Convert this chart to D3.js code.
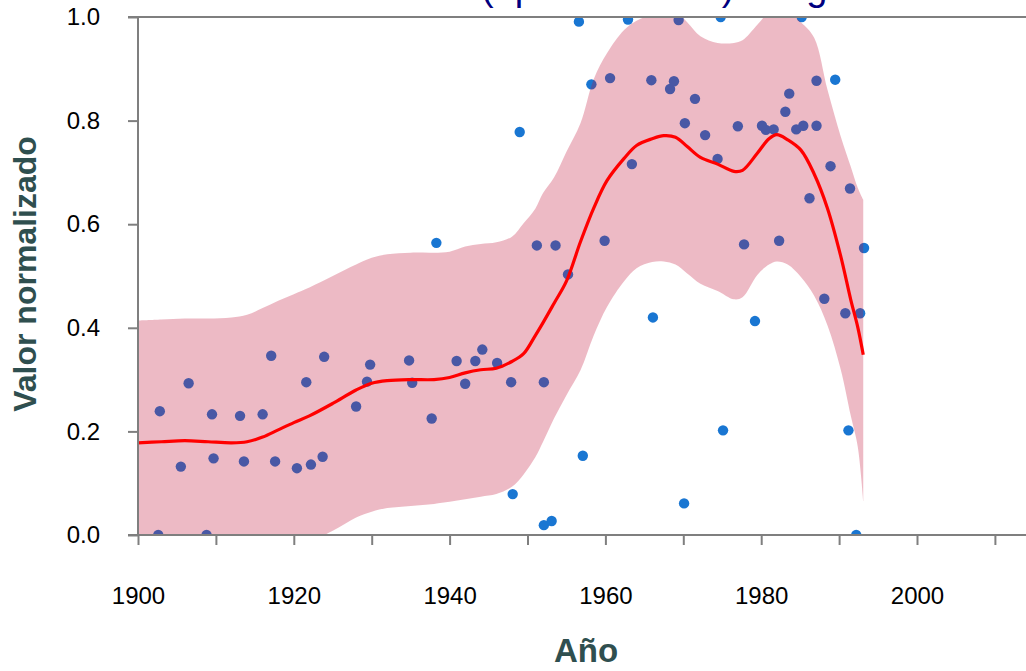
<!DOCTYPE html>
<html>
<head>
<meta charset="utf-8">
<script src="https://cdn.jsdelivr.net/npm/d3@7"></script>
<style>
  html, body { margin: 0; padding: 0; background: #ffffff; }
  svg { display: block; }
</style>
</head>
<body>
<svg id="chart" width="1026" height="671"></svg>
<script>
// Observed yearly values (normalised 0–1)
const obsYears = [
  1902.6, 1902.8, 1905.5, 1906.5, 1908.8, 1909.5, 1909.7, 1913.1, 1913.6, 1916.0,
  1917.1, 1917.6, 1920.4, 1921.6, 1922.2, 1923.7, 1923.9, 1928.0, 1929.4, 1929.8,
  1934.8, 1935.2, 1937.7, 1938.3, 1940.9, 1942.0, 1943.3, 1944.2, 1946.1, 1947.9,
  1948.1, 1949.0, 1951.2, 1952.1, 1952.1, 1953.1, 1953.6, 1955.2, 1956.6, 1957.1,
  1958.2, 1959.9, 1960.6, 1962.9, 1963.4,
  1965.9, 1966.1, 1968.3, 1968.8, 1969.4, 1970.1, 1970.2, 1971.5, 1972.8, 1974.4,
  1974.8, 1975.1, 1977.0, 1977.8, 1979.2, 1980.1, 1980.6, 1981.6, 1982.3, 1983.1,
  1983.6, 1984.5, 1985.2, 1985.4, 1986.2, 1987.1, 1987.1, 1988.1, 1988.9, 1989.5,
  1990.8, 1991.2, 1991.4, 1992.2, 1992.7, 1993.2
];
const obsValues = [
  0.000, 0.239, 0.132, 0.293, 0.000, 0.233, 0.148, 0.230, 0.142, 0.233,
  0.346, 0.142, 0.129, 0.295, 0.136, 0.151, 0.344, 0.248, 0.296, 0.329,
  0.337, 0.294, 0.225, 0.564, 0.336, 0.292, 0.336, 0.358, 0.332, 0.295,
  0.079, 0.778, 0.559, 0.295, 0.019, 0.027, 0.559, 0.503, 0.991, 0.153,
  0.870, 0.568, 0.882, 0.995, 0.716,
  0.878, 0.420, 0.861, 0.876, 0.994, 0.061, 0.795, 0.842, 0.772, 0.726,
  1.000, 0.202, 0.789, 0.561, 0.413, 0.790, 0.782, 0.783, 0.568, 0.817,
  0.852, 0.783, 1.000, 0.790, 0.650, 0.790, 0.877, 0.456, 0.712, 0.879,
  0.428, 0.202, 0.669, 0.000, 0.428, 0.554
];

// LOESS fit and its confidence band
const fitYears = [
  1900, 1903, 1906, 1909, 1912, 1914, 1916, 1918, 1920, 1922,
  1925, 1928, 1930, 1932, 1935, 1938, 1940, 1942, 1944, 1946,
  1948, 1949.5, 1951, 1952, 1953.4, 1955, 1956.8, 1958.5, 1960.2, 1962.4,
  1964, 1966, 1967.5, 1969, 1970.5, 1972.2, 1974.4, 1976.5, 1977.6, 1979.5,
  1981, 1982, 1983.4, 1985.1, 1986.8, 1988.5, 1990.2, 1991.5, 1992.4, 1993.1
];
const fitValues = [
  0.178, 0.180, 0.182, 0.180, 0.178, 0.180, 0.189, 0.203, 0.217, 0.230,
  0.254, 0.280, 0.293, 0.298, 0.300, 0.300, 0.304, 0.313, 0.319, 0.322,
  0.335, 0.350, 0.385, 0.410, 0.447, 0.490, 0.566, 0.631, 0.684, 0.727,
  0.752, 0.765, 0.771, 0.768, 0.750, 0.729, 0.716, 0.702, 0.704, 0.737,
  0.765, 0.773, 0.763, 0.743, 0.697, 0.631, 0.539, 0.454, 0.401, 0.348
];
const lowerValues = [
  -0.058, -0.056, -0.054, -0.058, -0.064, -0.065, -0.058, -0.044, -0.027, -0.014,
  0.008, 0.034, 0.045, 0.052, 0.056, 0.060, 0.064, 0.069, 0.074, 0.079,
  0.093, 0.117, 0.150, 0.180, 0.225, 0.270, 0.318, 0.385, 0.440, 0.490,
  0.515, 0.527, 0.528, 0.522, 0.505, 0.485, 0.471, 0.455, 0.459, 0.502,
  0.522, 0.528, 0.522, 0.498, 0.462, 0.405, 0.320, 0.230, 0.170, 0.065
];
const upperValues = [
  0.414, 0.416, 0.418, 0.418, 0.420, 0.425, 0.438, 0.452, 0.465, 0.478,
  0.500, 0.522, 0.535, 0.542, 0.545, 0.545, 0.547, 0.557, 0.562, 0.565,
  0.576, 0.602, 0.630, 0.660, 0.690, 0.740, 0.795, 0.880, 0.930, 0.975,
  0.993, 1.005, 1.014, 1.012, 0.990, 0.963, 0.950, 0.950, 0.955, 0.985,
  1.010, 1.018, 1.010, 0.990, 0.960, 0.860, 0.770, 0.711, 0.670, 0.647
];

// Axis ticks
const xTickYears = [1900, 1910, 1920, 1930, 1940, 1950, 1960, 1970, 1980, 1990, 2000, 2010];
const xTickLabels = ["1900", "", "1920", "", "1940", "", "1960", "", "1980", "", "2000", ""];
const yTickValues = [0, 0.2, 0.4, 0.6, 0.8, 1.0];
const yTickLabels = ["0.0", "0.2", "0.4", "0.6", "0.8", "1.0"];

const titleText = "Tendencia (aprobaciones) del gobierno";
const xTitle = "Año";
const yTitle = "Valor normalizado";

const W = 1026, H = 671;
const plotLeft = 138, plotTop = 17, plotBottom = 535;

const svg = d3.select("#chart");

const x = d3.scaleLinear().domain([1900, 2000]).range([plotLeft, 917]);
const y = d3.scaleLinear().domain([0, 1]).range([plotBottom, plotTop]);

const defs = svg.append("defs");
defs.append("clipPath").attr("id", "plotClip")
  .append("rect")
  .attr("x", plotLeft).attr("y", plotTop)
  .attr("width", W - plotLeft).attr("height", plotBottom - plotTop);

const plot = svg.append("g").attr("clip-path", "url(#plotClip)");

// Observations (drawn first, the band tints the ones it covers)
plot.append("g")
  .selectAll("circle")
  .data(obsYears.map((yr, i) => ({ yr, v: obsValues[i] })))
  .join("circle")
  .attr("cx", d => x(d.yr))
  .attr("cy", d => y(d.v))
  .attr("r", 5.2)
  .attr("fill", "#1976d2");

const fitData = fitYears.map((yr, i) => ({
  yr, fit: fitValues[i], lo: lowerValues[i], hi: upperValues[i]
}));

// Confidence band
plot.append("path")
  .datum(fitData)
  .attr("d", d3.area()
    .x(d => x(d.yr))
    .y0(d => y(d.lo))
    .y1(d => y(d.hi))
    .curve(d3.curveCatmullRom.alpha(0.5)))
  .attr("fill", "rgb(192,17,56)")
  .attr("fill-opacity", 0.29);

// LOESS curve
plot.append("path")
  .datum(fitData)
  .attr("d", d3.line()
    .x(d => x(d.yr))
    .y(d => y(d.fit))
    .curve(d3.curveCatmullRom.alpha(0.5)))
  .attr("fill", "none")
  .attr("stroke", "#ff0000")
  .attr("stroke-width", 3.2)
  .attr("stroke-linejoin", "round");

// Axes
const axisColor = "#7f7f7f";
const fontFamily = "Arial, 'Liberation Sans', Helvetica, sans-serif";

const xAxis = d3.axisBottom(x)
  .tickValues(xTickYears)
  .tickFormat((d, i) => xTickLabels[i])
  .tickSizeInner(10)
  .tickSizeOuter(0)
  .tickPadding(42);

const gx = svg.append("g")
  .attr("transform", `translate(0,${plotBottom})`)
  .call(xAxis);
gx.select(".domain").remove();
gx.selectAll(".tick line").attr("stroke", axisColor).attr("stroke-width", 2);
gx.selectAll(".tick text")
  .attr("fill", "#000").attr("font-size", 24).attr("font-family", fontFamily);

const yAxis = d3.axisLeft(y)
  .tickValues(yTickValues)
  .tickFormat((d, i) => yTickLabels[i])
  .tickSizeInner(10)
  .tickSizeOuter(0)
  .tickPadding(28);

const gy = svg.append("g")
  .attr("transform", `translate(${plotLeft},0)`)
  .call(yAxis);
gy.select(".domain").remove();
gy.selectAll(".tick line").attr("stroke", axisColor).attr("stroke-width", 2);
gy.selectAll(".tick text")
  .attr("fill", "#000").attr("font-size", 24).attr("font-family", fontFamily);

// Frame lines: left axis, bottom axis, top edge
svg.append("line")
  .attr("x1", plotLeft).attr("x2", plotLeft)
  .attr("y1", plotTop).attr("y2", plotBottom)
  .attr("stroke", axisColor).attr("stroke-width", 2);
svg.append("line")
  .attr("x1", plotLeft - 10).attr("x2", W)
  .attr("y1", plotBottom).attr("y2", plotBottom)
  .attr("stroke", axisColor).attr("stroke-width", 2);
svg.append("line")
  .attr("x1", plotLeft - 10).attr("x2", W)
  .attr("y1", plotTop).attr("y2", plotTop)
  .attr("stroke", axisColor).attr("stroke-width", 2);

// Axis titles
svg.append("text")
  .attr("x", 586).attr("y", 662)
  .attr("text-anchor", "middle")
  .attr("font-family", fontFamily).attr("font-weight", "bold")
  .attr("font-size", 33).attr("fill", "#2f4f4f")
  .text(xTitle);

svg.append("text")
  .attr("transform", "translate(36,274) rotate(-90)")
  .attr("text-anchor", "middle")
  .attr("font-family", fontFamily).attr("font-weight", "bold")
  .attr("font-size", 32).attr("fill", "#2f4f4f")
  .text(yTitle);

// Chart title, sitting above the top edge
const title = svg.append("text")
  .attr("y", 0)
  .attr("font-family", fontFamily)
  .attr("font-size", 38).attr("fill", "#000080")
  .text(titleText);
const parenIdx = titleText.indexOf("(");
const prefixW = title.node().getSubStringLength(0, parenIdx);
title.attr("x", 481 - prefixW);
</script>
</body>
</html>
